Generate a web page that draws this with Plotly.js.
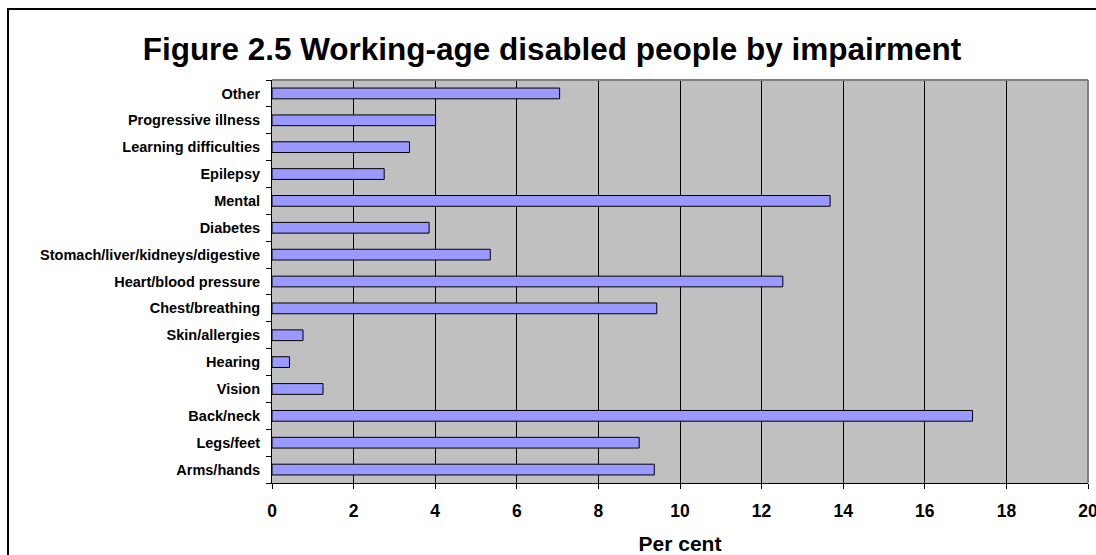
<!DOCTYPE html>
<html>
<head>
<meta charset="utf-8">
<script src="https://cdn.plot.ly/plotly-3.0.1.min.js"></script>
<style>
html,body{margin:0;padding:0;background:#fff;}
#chart{width:1096px;height:555px;}
</style>
</head>
<body>
<div id="chart"></div>
<script>
const categories = ["Arms/hands","Legs/feet","Back/neck","Vision","Hearing","Skin/allergies","Chest/breathing","Heart/blood pressure","Stomach/liver/kidneys/digestive","Diabetes","Mental","Epilepsy","Learning difficulties","Progressive illness","Other"];
const values = [9.37, 9.0, 17.17, 1.25, 0.43, 0.76, 9.43, 12.52, 5.35, 3.85, 13.68, 2.75, 3.37, 4.01, 7.05];
const xTicks = [0,2,4,6,8,10,12,14,16,18,20];
const titleText = "Figure 2.5 Working-age disabled people by impairment";
const xTitle = "Per cent";

const FONT = "Liberation Sans, Arial, sans-serif";

const trace = {
  type: "bar",
  orientation: "h",
  y: categories,
  x: values,
  marker: {color: "#9999FF", line: {color: "#000000", width: 1}},
  hoverinfo: "skip"
};

const layout = {
  width: 1096, height: 555,
  margin: {l: 272, r: 8, t: 80, b: 72, pad: 0},
  paper_bgcolor: "#FFFFFF",
  plot_bgcolor: "#C0C0C0",
  showlegend: false,
  bargap: 0.6,
  font: {family: FONT, color: "#000"},
  title: {
    text: "<b>" + titleText + "</b>",
    font: {family: FONT, size: 31.5, color: "#000"},
    xref: "container", x: 0.5036, xanchor: "center",
    yref: "container", y: 0.912, yanchor: "middle"
  },
  xaxis: {
    range: [0, 20],
    tickvals: xTicks,
    ticktext: xTicks.map(v => "<b>" + v + "</b>"),
    showgrid: true, gridcolor: "#000000", gridwidth: 1,
    zeroline: false,
    showline: true, linecolor: "#000000", linewidth: 1,
    ticks: "outside", ticklen: 5, tickcolor: "#000", tickwidth: 1,
    ticklabelstandoff: 7,
    ticklabeloverflow: "allow",
    tickfont: {family: FONT, size: 17.5, color: "#000"},
    title: {text: "<b>" + xTitle + "</b>", font: {family: FONT, size: 21, color: "#000"}, standoff: 17},
    fixedrange: true
  },
  yaxis: {
    type: "category",
    tickvals: categories,
    ticktext: categories.map(c => "<b>" + c + "</b>"),
    showgrid: false, zeroline: false,
    showline: true, linecolor: "#000000", linewidth: 1,
    ticks: "outside", ticklen: 5, tickcolor: "#000", tickwidth: 1,
    tickson: "boundaries",
    ticklabelstandoff: 8,
    tickfont: {family: FONT, size: 14.5, color: "#000"},
    fixedrange: true
  },
  shapes: [
    {type: "line", xref: "paper", yref: "paper", x0: 0, x1: 1, y0: 1, y1: 1, line: {color: "#808080", width: 2}, layer: "above"},
    {type: "line", xref: "paper", yref: "paper", x0: 1, x1: 1, y0: 0, y1: 1, line: {color: "#808080", width: 2}, layer: "above"},
    {type: "rect", xref: "paper", yref: "paper", x0: -0.3235, x1: 1.1, y0: -0.3, y1: 1.176, line: {color: "#000000", width: 2}, fillcolor: "rgba(0,0,0,0)", layer: "above"}
  ]
};

Plotly.newPlot("chart", [trace], layout, {displayModeBar: false, staticPlot: true});
</script>
</body>
</html>
